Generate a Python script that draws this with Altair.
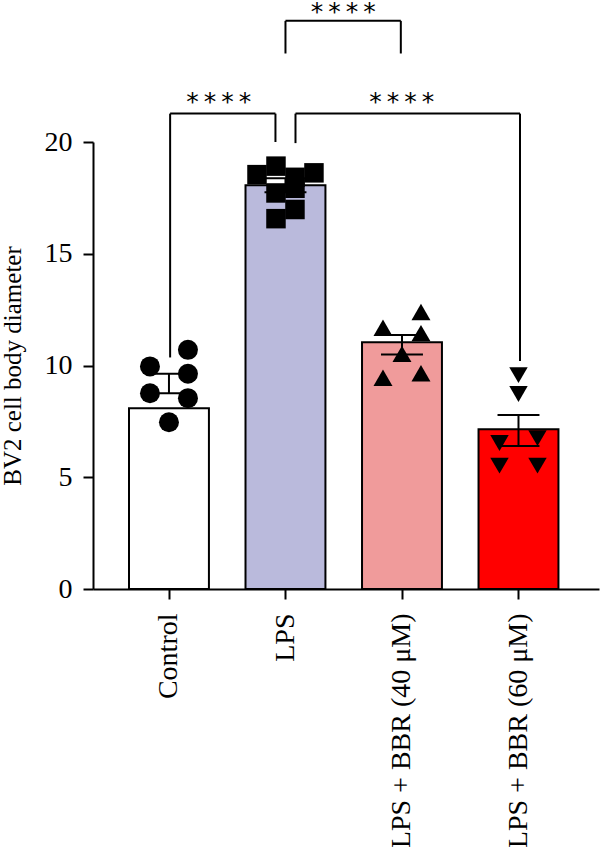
import altair as alt
import pandas as pd

groups = ["Control", "LPS", "LPS + BBR (40 μM)", "LPS + BBR (60 μM)"]
bar_means = [8.09, 18.06, 11.04, 7.15]
err_low = [8.76, 17.75, 10.49, 6.40]
err_high = [9.63, 18.38, 11.37, 7.79]
bar_colors = ["#ffffff", "#babadc", "#f09b9b", "#ff0000"]
point_shapes = ["circle", "square", "triangle-up", "triangle-down"]
point_sizes = [400, 340, 360, 360]

control_pts = [10.70, 9.96, 9.63, 8.76, 8.54, 7.46]
control_slot = [1, -1, 1, -1, 1, 0]
lps_pts = [18.54, 18.92, 18.62, 18.42, 17.93, 17.72, 16.98, 16.57]
lps_slot = [-1.5, -0.5, 1.5, 0.5, 0.5, -0.5, 0.5, -0.5]
bbr40_pts = [11.69, 12.39, 11.45, 10.52, 9.45, 9.65]
bbr40_slot = [-1, 1, 1, 0, -1, 1]
bbr60_pts = [9.57, 8.72, 6.53, 6.75, 5.52, 5.52]
bbr60_slot = [0, 0, -1, 1, -1, 1]

y_ticks = [0, 5, 10, 15, 20]
star_label = "*\u2009*\u2009*\u2009*"

# significance brackets: from group, to group, top, leg bottom (from), leg bottom (to)
br_from = ["Control", "LPS", "LPS"]
br_to = ["LPS", "LPS + BBR (60 μM)", "LPS + BBR (40 μM)"]
br_top = [21.27, 21.27, 25.42]
br_bot_from = [10.36, 19.95, 23.96]
br_bot_to = [20.0, 10.2, 23.96]
# small leg nudges (fraction of category step) and star nudges (px)
br_nudge_from = [0.01, 0.086, 0.0]
br_nudge_to = [-0.086, 0.013, -0.01]
star_dx = [-4, -6, 0]
star_dy = [-4, -4, -1]

FONT = "Liberation Serif"
BAR_HALF = 0.343    # half bar width, in category steps
CAP_HALF = 0.18     # half cap width
JITTER = 0.163      # point column spacing

gidx = {g: i for i, g in enumerate(groups)}

bars_df = pd.DataFrame({"group": groups, "v": bar_means, "lo": err_low, "hi": err_high,
                        "idx": list(range(len(groups))), "base": [0] * len(groups)})

caps_df = pd.DataFrame({"group": groups * 2, "v": err_low + err_high,
                        "idx": list(range(len(groups))) * 2})

pts_rows = []
for g, vals, slots in zip(groups, [control_pts, lps_pts, bbr40_pts, bbr60_pts],
                          [control_slot, lps_slot, bbr40_slot, bbr60_slot]):
    for v, s in zip(vals, slots):
        pts_rows.append({"group": g, "v": v, "slot": s, "idx": gidx[g]})
pts_df = pd.DataFrame(pts_rows)

br_df = pd.DataFrame({
    "a": [gidx[g] for g in br_from], "b": [gidx[g] for g in br_to],
    "na": br_nudge_from, "nb": br_nudge_to,
    "v": br_top, "ba": br_bot_from, "bb": br_bot_to,
    "lab": [star_label] * 3,
})

xscale = alt.Scale(domain=[-0.652, 3.691], nice=False, zero=False)
yscale = alt.Scale(domain=[0, 20], nice=False, zero=True)

label_expr = "[" + ",".join("'" + g + "'" for g in groups) + "][datum.value]"
xaxis = alt.Axis(title=None, values=[0, 1, 2, 3], labelExpr=label_expr,
                 labelAngle=270, labelAlign="right", labelBaseline="middle",
                 labelFont=FONT, labelFontSize=28, labelColor="black", labelPadding=14,
                 tickSize=10, tickWidth=2, tickColor="black", labelFlush=False,
                 domainWidth=2, domainColor="black", grid=False, labelLimit=400,
                 labelOverlap=False)
yaxis = alt.Axis(title="BV2 cell body diameter", values=y_ticks,
                 labelFont=FONT, labelFontSize=28, labelColor="black", labelPadding=11,
                 titleFont=FONT, titleFontSize=25, titleFontWeight="normal",
                 titleColor="black", titlePadding=19,
                 tickSize=10, tickWidth=2, tickColor="black",
                 domainWidth=2, domainColor="black", grid=False)


def X(field):
    return alt.X(field, type="quantitative", scale=xscale, axis=xaxis)


def Y(field):
    return alt.Y(field, type="quantitative", scale=yscale, axis=yaxis)


bars = alt.Chart(bars_df).transform_calculate(
    x=f"datum.idx - {BAR_HALF}", x2=f"datum.idx + {BAR_HALF}"
).mark_bar(stroke="black", strokeWidth=2).encode(
    x=X("x"), x2="x2:Q",
    y=Y("v"), y2="base:Q",
    color=alt.Color("group:N", scale=alt.Scale(domain=groups, range=bar_colors), legend=None),
)

err_rule = alt.Chart(bars_df).transform_calculate(x="datum.idx").mark_rule(
    color="black", strokeWidth=2).encode(x=X("x"), y=Y("lo"), y2="hi:Q")

err_caps = alt.Chart(caps_df).transform_calculate(
    x=f"datum.idx - {CAP_HALF}", x2=f"datum.idx + {CAP_HALF}"
).mark_rule(color="black", strokeWidth=2).encode(x=X("x"), x2="x2:Q", y=Y("v"))

points = alt.Chart(pts_df).transform_calculate(
    x=f"datum.idx + datum.slot * {JITTER}"
).mark_point(filled=True, color="black", opacity=1, strokeWidth=0).encode(
    x=X("x"), y=Y("v"),
    shape=alt.Shape("group:N", scale=alt.Scale(domain=groups, range=point_shapes), legend=None),
    size=alt.Size("group:O", scale=alt.Scale(domain=groups, range=point_sizes), legend=None),
)

br_base = alt.Chart(br_df).transform_calculate(
    xa="datum.a + datum.na", xb="datum.b + datum.nb"
)
br_h = br_base.mark_rule(color="black", strokeWidth=2).encode(x=X("xa"), x2="xb:Q", y=Y("v"))
br_l = br_base.mark_rule(color="black", strokeWidth=2).encode(x=X("xa"), y=Y("v"), y2="ba:Q")
br_r = br_base.mark_rule(color="black", strokeWidth=2).encode(x=X("xb"), y=Y("v"), y2="bb:Q")

stars = []
for i in range(len(br_from)):
    stars.append(
        alt.Chart(br_df.iloc[[i]]).transform_calculate(
            xm="(datum.a + datum.na + datum.b + datum.nb) / 2"
        ).mark_text(font="DejaVu Sans", fontSize=25, color="black", baseline="alphabetic",
                    align="center", dx=star_dx[i], dy=star_dy[i]).encode(
            x=X("xm"), y=Y("v"), text="lab:N")
    )

chart = alt.layer(bars, err_rule, err_caps, points, br_h, br_l, br_r, *stars).properties(
    width=506, height=447,
    autosize=alt.AutoSizeParams(type="none"),
    padding={"left": 93, "top": 142, "right": 1, "bottom": 258},
    background="white",
).configure_view(stroke=None)

chart.save("out.html", embed_options={"renderer": "svg", "actions": False})
